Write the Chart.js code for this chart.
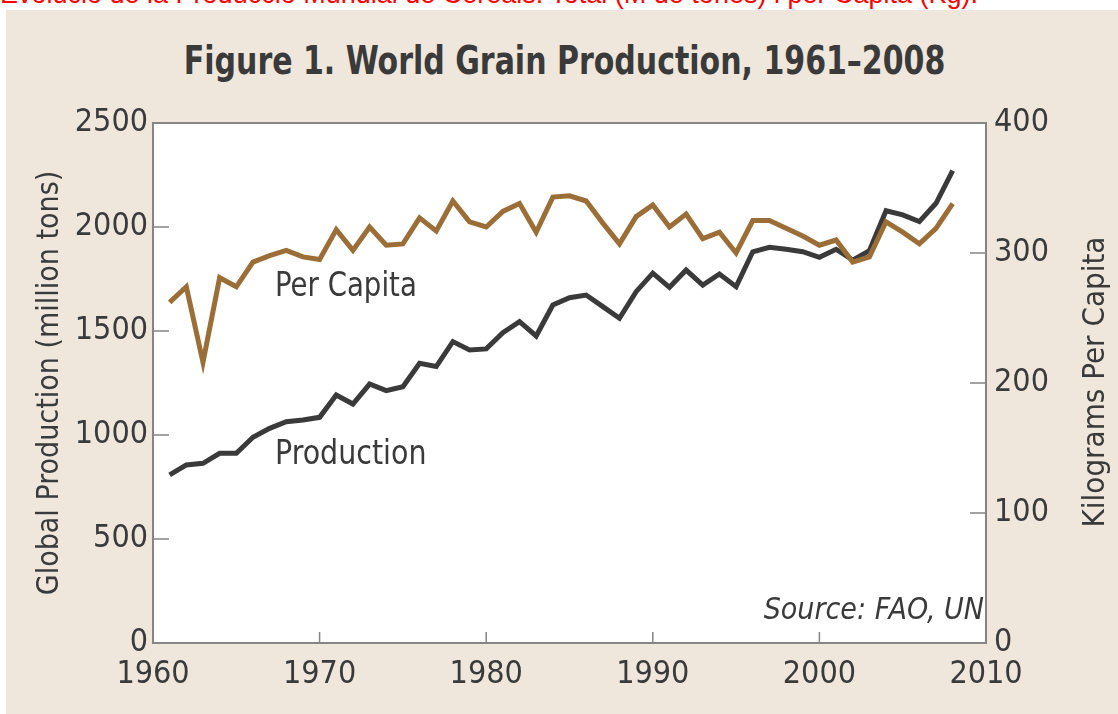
<!DOCTYPE html>
<html>
<head>
<meta charset="utf-8">
<script src="https://cdn.jsdelivr.net/npm/chart.js@4"></script>
<style>
  html, body { margin: 0; padding: 0; background: #fff; overflow: hidden; }
  body { width: 1118px; height: 714px; position: relative; }
  .note {
    position: absolute; left: 0; top: -19px; white-space: nowrap;
    font: 27px/27px "Liberation Sans", Arial, sans-serif; color: #ff0000;
  }
  .panel { position: absolute; left: 6px; top: 10px; right: 0; bottom: 0; background: #efe7dc; }
  .narrow { font-family: "Liberation Sans Narrow", "DejaVu Sans Condensed", sans-serif; font-stretch: condensed; color: #3a3a3a; }
  .title {
    position: absolute; left: 0; width: 1118px; top: 38px; text-align: center;
    font-size: 39px; font-weight: bold; line-height: 46px;
    transform: scaleX(0.855); transform-origin: 568px 0; padding-left: 10px; box-sizing: border-box;
  }
  .lbl { position: absolute; font-size: 33px; line-height: 38px; white-space: nowrap; transform-origin: 0 0; }
  .rtitle {
    position: absolute; left: 893px; top: 364px; width: 400px; text-align: center;
    font-size: 31px; line-height: 36px; transform: rotate(-90deg); transform-origin: 200px 18px;
  }
  #wrap { position: absolute; left: 0; top: 0; width: 1118px; height: 714px; }
</style>
</head>
<body>
<div class="note">Evolució de la Producció Mundial de Cereals: Total (M de tones) i per Capita (Kg).</div>
<div class="panel"></div>
<div class="title narrow">Figure 1. World Grain Production, 1961–2008</div>
<div id="wrap"><canvas id="chart" width="1118" height="714"></canvas></div>
<div class="lbl narrow" style="left:275px; top:266px; transform:scaleX(0.93);">Per Capita</div>
<div class="lbl narrow" style="left:275px; top:434px; transform:scaleX(0.96);">Production</div>
<div class="lbl narrow" style="right:134px; top:590px; font-style:italic; font-size:30px;">Source: FAO, UN</div>
<div class="rtitle narrow">Kilograms Per Capita</div>
<script>
// ── Data ────────────────────────────────────────────────────────────
const years = [
  1961, 1962, 1963, 1964, 1965, 1966, 1967, 1968, 1969, 1970,
  1971, 1972, 1973, 1974, 1975, 1976, 1977, 1978, 1979, 1980,
  1981, 1982, 1983, 1984, 1985, 1986, 1987, 1988, 1989, 1990,
  1991, 1992, 1993, 1994, 1995, 1996, 1997, 1998, 1999, 2000,
  2001, 2002, 2003, 2004, 2005, 2006, 2007, 2008,
];
// million tons
const production = [
  808, 856, 864, 912, 912, 989, 1032, 1064, 1072, 1085,
  1192, 1149, 1245, 1213, 1232, 1345, 1329, 1449, 1409, 1414,
  1492, 1545, 1476, 1625, 1660, 1673, 1617, 1561, 1689, 1778,
  1710, 1793, 1721, 1774, 1713, 1881, 1902, 1893, 1881, 1854,
  1893, 1841, 1886, 2078, 2058, 2026, 2114, 2271,
];
// kg per person
const perCapita = [
  262, 274, 216, 281, 274, 293, 298, 302, 297, 295,
  318, 302, 320, 306, 307, 327, 317, 340, 324, 320,
  332, 338, 316, 343, 344, 340, 323, 307, 328, 337,
  320, 330, 311, 316, 300, 325, 325, 319, 313, 306,
  310, 293, 297, 324, 316, 307, 319, 338,
];
const xTicks = [1960, 1970, 1980, 1990, 2000, 2010];
const leftTicks = [0, 500, 1000, 1500, 2000, 2500];
const rightTicks = [0, 100, 200, 300, 400];

// ── Styling ─────────────────────────────────────────────────────────
const FONT = "'Liberation Sans Narrow', 'DejaVu Sans Condensed', sans-serif";
const INK = '#3a3a3a';
const GOLD = '#9a6e36';
const FRAME = '#858585';
const TICK_FONT = { family: FONT, size: 32 };

const toPoints = (vals) => vals.map((v, i) => ({ x: years[i], y: v }));
const fixTicks = (list) => (scale) => { scale.ticks = list.map(v => ({ value: v })); };

// white plot area, inward tick marks, frame
const plotFrame = {
  id: 'plotFrame',
  beforeDatasetsDraw(chart) {
    const { ctx, chartArea: a, scales } = chart;
    ctx.save();
    ctx.fillStyle = '#fff';
    ctx.fillRect(a.left, a.top, a.width, a.height);
    ctx.strokeStyle = FRAME;
    ctx.lineWidth = 1.5;
    ctx.beginPath();
    leftTicks.forEach(v => {
      const y = scales.y.getPixelForValue(v);
      ctx.moveTo(a.left, y); ctx.lineTo(a.left + 16, y);
    });
    rightTicks.forEach(v => {
      const y = scales.y1.getPixelForValue(v);
      ctx.moveTo(a.right, y); ctx.lineTo(a.right - 16, y);
    });
    xTicks.forEach(v => {
      const x = scales.x.getPixelForValue(v);
      ctx.moveTo(x, a.bottom); ctx.lineTo(x, a.bottom - 11);
    });
    ctx.stroke();
    ctx.restore();
  },
  afterDraw(chart) {
    const { ctx, chartArea: a } = chart;
    ctx.save();
    ctx.strokeStyle = FRAME;
    ctx.lineWidth = 2;
    ctx.strokeRect(a.left, a.top, a.width, a.height);
    ctx.restore();
  },
};

new Chart(document.getElementById('chart').getContext('2d'), {
  type: 'line',
  data: {
    datasets: [
      {
        label: 'Per Capita',
        data: toPoints(perCapita),
        yAxisID: 'y1',
        borderColor: GOLD,
        borderWidth: 5,
        pointRadius: 0,
        tension: 0,
      },
      {
        label: 'Production',
        data: toPoints(production),
        yAxisID: 'y',
        borderColor: INK,
        borderWidth: 5,
        pointRadius: 0,
        tension: 0,
      },
    ],
  },
  options: {
    responsive: false,
    animation: false,
    devicePixelRatio: 1,
    layout: { padding: { top: 123, left: 0, right: 0, bottom: 0 } },
    plugins: { legend: { display: false }, tooltip: { enabled: false } },
    scales: {
      x: {
        type: 'linear',
        min: 1960,
        max: 2010,
        afterBuildTicks: fixTicks(xTicks),
        afterFit: (s) => { s.height = 71; },
        grid: { display: false, drawTicks: false },
        border: { display: false },
        ticks: { color: INK, font: TICK_FONT, padding: 12, maxRotation: 0, callback: v => String(v) },
      },
      y: {
        position: 'left',
        min: 0,
        max: 2500,
        afterBuildTicks: fixTicks(leftTicks),
        afterFit: (s) => { s.width = 153; },
        grid: { display: false, drawTicks: false },
        border: { display: false },
        ticks: { color: INK, font: TICK_FONT, padding: 5, callback: v => String(v) },
        title: {
          display: true,
          text: 'Global Production (million tons)',
          color: INK,
          font: { family: FONT, size: 30 },
          padding: { top: 32, bottom: 0 },
        },
      },
      y1: {
        position: 'right',
        min: 0,
        max: 400,
        afterBuildTicks: fixTicks(rightTicks),
        afterFit: (s) => { s.width = 132; },
        grid: { display: false, drawTicks: false },
        border: { display: false },
        ticks: { color: INK, font: TICK_FONT, padding: 8, callback: v => String(v) },
      },
    },
  },
  plugins: [plotFrame],
});
</script>
</body>
</html>
